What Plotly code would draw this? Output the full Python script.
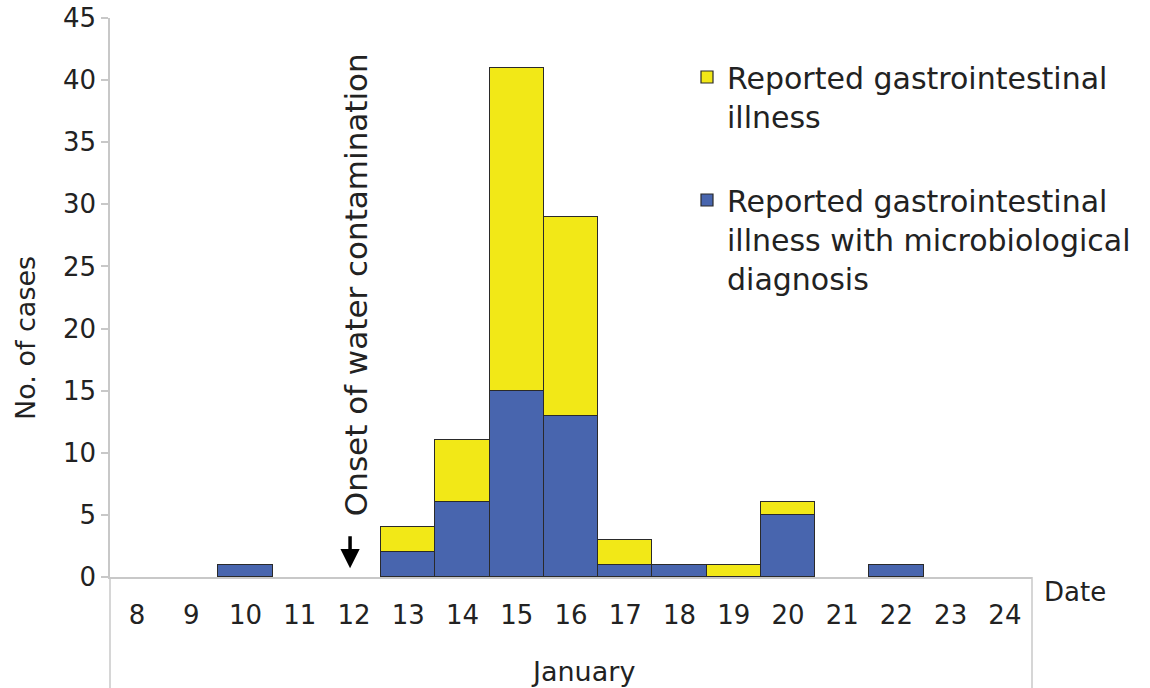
import plotly.graph_objects as go

days = [str(d) for d in range(8, 25)]
micro = [None, None, 1, None, None, 2, 6, 15, 13, 1, 1, None, 5, None, 1, None, None]
other = [None, None, None, None, None, 2, 5, 26, 16, 2, None, 1, 1, None, None, None, None]
y_ticks = [0, 5, 10, 15, 20, 25, 30, 35, 40, 45]
onset_day = "12"

FONT = "DejaVu Sans"
TXT = "#222222"
L, R, T, B = 110, 118, 18, 111
W, H = 1150, 688
PW, PH = W - L - R, H - T - B


def px_x(px):
    return (px - L) / PW


def px_y(py):
    return (H - B - py) / PH


fig = go.Figure()
fig.add_trace(go.Bar(
    x=days, y=micro, name="Reported gastrointestinal<br>illness with microbiological<br>diagnosis",
    marker=dict(color="#4865ae", line=dict(color="#2a2a2a", width=1.2)),
    legendgroup="b", legendrank=2,
))
fig.add_trace(go.Bar(
    x=days, y=other, name="Reported gastrointestinal<br>illness",
    marker=dict(color="#f2e817", line=dict(color="#2a2a2a", width=1.2)),
    legendgroup="a", legendrank=1,
))

onset_idx = days.index(onset_day)
fig.add_annotation(x=onset_idx, y=23.5, xref="x", yref="y", text="Onset of water contamination",
                   textangle=-90, showarrow=False, xshift=2, xanchor="center", yanchor="middle",
                   font=dict(family=FONT, size=31, color=TXT))
fig.add_annotation(x=onset_idx, y=0.7, ax=onset_idx, ay=3.4, xref="x", yref="y", axref="x", ayref="y",
                   text="", showarrow=True, arrowhead=2, arrowsize=1.1, arrowwidth=3.5,
                   arrowcolor="#000000", xshift=-4)

# axis extension lines below the baseline
fig.add_shape(type="line", xref="paper", yref="paper", x0=0, x1=0, y0=0, y1=-B / PH,
              line=dict(color="#c8c8c8", width=1.5))
fig.add_shape(type="line", xref="paper", yref="paper", x0=1, x1=1, y0=0, y1=-B / PH,
              line=dict(color="#c8c8c8", width=1.5))

fig.add_annotation(text="January", xref="paper", yref="paper", x=px_x(583), y=px_y(671),
                   xanchor="center", yanchor="middle", showarrow=False,
                   font=dict(family=FONT, size=27, color=TXT))
fig.add_annotation(text="Date", xref="paper", yref="paper", x=px_x(1042), y=px_y(592),
                   xanchor="left", yanchor="middle", showarrow=False,
                   font=dict(family=FONT, size=26, color=TXT))
fig.add_annotation(text="No. of cases", xref="paper", yref="paper", x=px_x(25), y=px_y(338),
                   xanchor="center", yanchor="middle", textangle=-90, showarrow=False,
                   font=dict(family=FONT, size=27, color=TXT))

fig.update_layout(
    width=W, height=H,
    margin=dict(l=L, r=R, t=T, b=B, autoexpand=False),
    paper_bgcolor="white", plot_bgcolor="white",
    barmode="stack", bargap=0,
    font=dict(family=FONT, size=26, color=TXT),
    showlegend=True,
    legend=dict(x=px_x(687), xanchor="left", y=px_y(51), yanchor="top",
                valign="top", tracegroupgap=42, bgcolor="rgba(0,0,0,0)",
                font=dict(family=FONT, size=30, color=TXT), itemwidth=30),
    xaxis=dict(type="category", range=[-0.5, 16.5], showgrid=False, showline=True,
               linecolor="#c8c8c8", linewidth=1.5, ticks="", ticklabelstandoff=14,
               automargin=False, tickfont=dict(family=FONT, size=26, color=TXT), fixedrange=True),
    yaxis=dict(range=[0, 45], tickvals=y_ticks, showgrid=False, showline=True,
               linecolor="#c8c8c8", linewidth=1.5, ticks="outside", ticklen=7,
               tickcolor="#c8c8c8", tickwidth=1.5, zeroline=False, automargin=False,
               tickfont=dict(family=FONT, size=26, color=TXT), fixedrange=True),
)

fig.write_html("out.html", config={"displayModeBar": False},
               post_script="document.body.style.margin='0';document.body.style.padding='0';"
                           "document.body.style.overflow='hidden';")
